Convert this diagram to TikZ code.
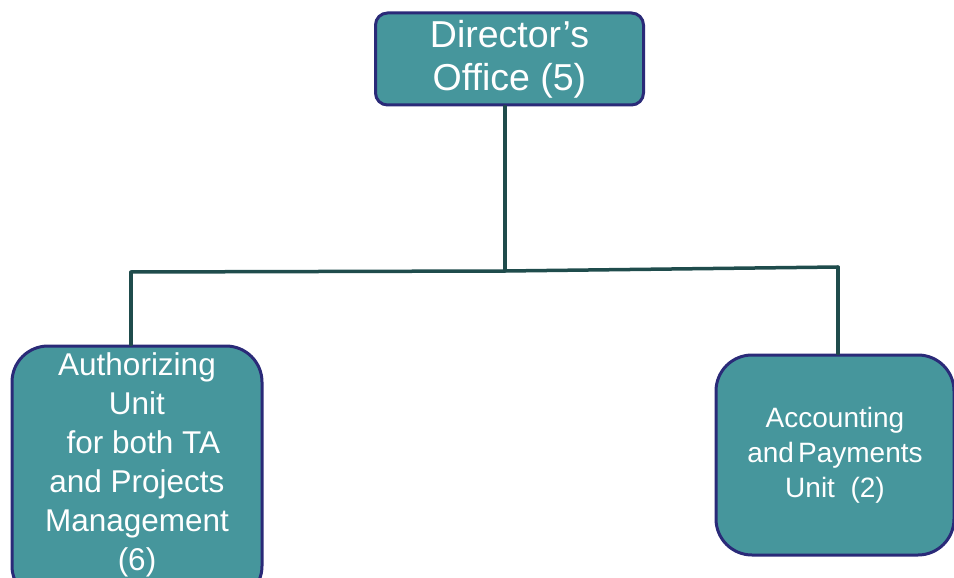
\documentclass[tikz,border=0pt]{standalone}
\usepackage{fontspec}
\setmainfont{Liberation Sans}
\definecolor{boxfill}{HTML}{46969C}
\definecolor{boxline}{HTML}{2A2A78}
\definecolor{conn}{HTML}{1F4C4C}
\begin{document}
\begin{tikzpicture}[x=1pt,y=1pt,
  unitbox/.style={draw=boxline,fill=boxfill,line width=3pt,inner sep=0pt,
    text=white,align=center},
  wire/.style={draw=conn,line width=3.5pt,line cap=round}]
\useasboundingbox (0,0) rectangle (954,-578);
\begin{scope}
\clip (0,0) rectangle (954,-578);
\node[unitbox,rounded corners=12pt,minimum width=268pt,minimum height=92pt,
  font=\fontsize{37.5}{43}\selectfont] (dir) at (509.5,-59)
  {Director’s\\Office (5)};
\node[unitbox,rounded corners=36pt,minimum width=250pt,minimum height=256pt]
  (auth) at (137,-474) {};
\node[text=white,align=center,font=\fontsize{31.5}{39}\selectfont]
  (authtext) at (137,-465) {Authorizing\\Unit\\\hspace{0.4em}for both TA\\and Projects\\Management\\(6)};
\node[unitbox,rounded corners=36pt,minimum width=238pt,minimum height=200pt,
  font=\fontsize{28}{35}\selectfont] (acc) at (835,-455)
  {Accounting\\and\hspace{0.15em}Payments\\Unit\ \ (2)};
\end{scope}
\coordinate (j) at (505,-271);
\coordinate (jl) at (131,-272);
\coordinate (jr) at (838,-267);
\draw[wire] (dir.south -| j) -- (j);
\draw[wire] (jl) -- (j) -- (jr);
\draw[wire] (jl) -- (auth.north -| jl);
\draw[wire] (jr) -- (acc.north -| jr);
\end{tikzpicture}
\end{document}
